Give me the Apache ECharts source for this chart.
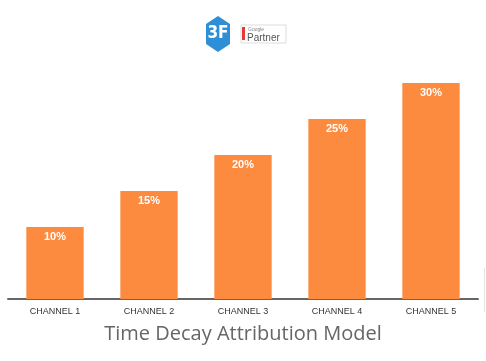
<!DOCTYPE html>
<html><head><meta charset="utf-8">
<script src="https://cdn.jsdelivr.net/npm/echarts@6/dist/echarts.min.js"></script>
<style>html,body{margin:0;padding:0;background:#fff}#c{width:486px;height:361px}</style>
</head><body><div id="c"></div>
<script>
var categories = ['CHANNEL 1','CHANNEL 2','CHANNEL 3','CHANNEL 4','CHANNEL 5'];
var values = [10, 15, 20, 25, 30];
var titleText = 'Time Decay Attribution Model';

var chart = echarts.init(document.getElementById('c'));
chart.setOption({
  animation: false,
  backgroundColor: '#fff',
  title: {
    text: titleText, left: 'center', top: 319,
    textStyle: { fontFamily: 'Open Sans', fontWeight: 'normal', fontSize: 20, color: '#666' }
  },
  grid: { left: 8, right: 8, top: 83, bottom: 62 },
  xAxis: {
    type: 'category', data: categories,
    axisLine: { lineStyle: { color: '#666', width: 2 } },
    axisTick: { show: false },
    axisLabel: { color: '#333', fontFamily: 'Liberation Sans', fontSize: 9, margin: 8 }
  },
  yAxis: { type: 'value', min: 0, max: 30, show: false, splitLine: { show: false } },
  series: [{
    type: 'bar', data: values, barWidth: '61%',
    itemStyle: { color: '#fd8b3f' },
    label: {
      show: true, position: 'insideTop', distance: 4,
      formatter: '{c}%', color: '#fff', fontWeight: 'bold', fontSize: 11,
      fontFamily: 'Liberation Sans'
    }
  }],
  graphic: [
    { type: 'polygon', shape: { points: [[218,16],[230,24],[230,44],[218,52],[206,44],[206,24]] },
      style: { fill: '#2f8fd6' } },
    { type: 'text', style: { text: '3F', x: 218, y: 34, align: 'center', verticalAlign: 'middle',
      fill: '#fff', font: 'bold 17px "DejaVu Sans Condensed", "Liberation Sans Narrow", sans-serif' } },
    { type: 'rect', shape: { x: 241, y: 25, width: 45, height: 18 },
      style: { fill: '#fff', stroke: '#ddd', lineWidth: 1 } },
    { type: 'rect', shape: { x: 242, y: 27, width: 3, height: 13 }, style: { fill: '#e53935' } },
    { type: 'text', style: { text: 'Google', x: 248, y: 30, verticalAlign: 'middle',
      fill: '#888', font: '5px "Liberation Sans"' } },
    { type: 'text', style: { text: 'Partner', x: 247, y: 38, verticalAlign: 'middle',
      fill: '#555', font: '10px "Liberation Sans"' } },
    { type: 'line', shape: { x1: 484.5, y1: 268, x2: 484.5, y2: 312 },
      style: { stroke: '#e4e4e4', lineWidth: 1 } }
  ]
});
</script></body></html>
